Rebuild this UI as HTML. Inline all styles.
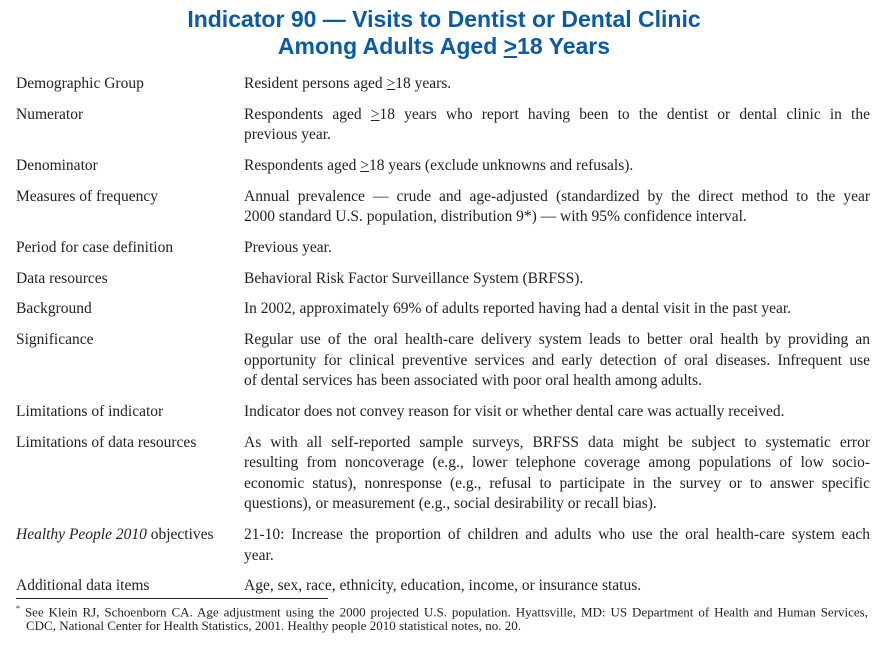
<!DOCTYPE html>
<html><head><meta charset="utf-8"><style>
body{margin:0;background:#fff;width:888px;height:650px;position:relative;overflow:hidden;font-family:"Liberation Serif",serif;color:#222}
.t{position:absolute;left:0;width:888px;text-align:center;font-family:"Liberation Sans",sans-serif;font-weight:bold;color:#0b5aa6;font-size:23px;line-height:26px}
.t span{display:inline-block;transform:scaleX(1.0)}
.l{position:absolute;left:16px;font-size:15.5px;line-height:18px;white-space:nowrap}
.r{position:absolute;left:244px;width:626px;font-size:15.5px;line-height:18px;white-space:nowrap}
.j{text-align:justify;text-align-last:justify}
.f{position:absolute;left:16px;width:852px;font-size:13px;line-height:15px;white-space:nowrap}
u{text-decoration:underline}
</style></head><body>
<div class="t" style="top:6px"><span>Indicator 90 — Visits to Dentist or Dental Clinic</span></div>
<div class="t" style="top:33px"><span>Among Adults Aged <u>&gt;</u>18 Years</span></div>

<div class="l" style="top:75px">Demographic Group</div>
<div class="r" style="top:75px">Resident persons aged <u>&gt;</u>18 years.</div>

<div class="l" style="top:106px">Numerator</div>
<div class="r j" style="top:106px">Respondents aged <u>&gt;</u>18 years who report having been to the dentist or dental clinic in the</div>
<div class="r" style="top:126px">previous year.</div>

<div class="l" style="top:157px">Denominator</div>
<div class="r" style="top:157px">Respondents aged <u>&gt;</u>18 years (exclude unknowns and refusals).</div>

<div class="l" style="top:188px">Measures of frequency</div>
<div class="r j" style="top:188px">Annual prevalence — crude and age-adjusted (standardized by the direct method to the year</div>
<div class="r" style="top:208px">2000 standard U.S. population, distribution 9*) — with 95% confidence interval.</div>

<div class="l" style="top:239px">Period for case definition</div>
<div class="r" style="top:239px">Previous year.</div>

<div class="l" style="top:270px">Data resources</div>
<div class="r" style="top:270px">Behavioral Risk Factor Surveillance System (BRFSS).</div>

<div class="l" style="top:300px">Background</div>
<div class="r" style="top:300px">In 2002, approximately 69% of adults reported having had a dental visit in the past year.</div>

<div class="l" style="top:331px">Significance</div>
<div class="r j" style="top:331px">Regular use of the oral health-care delivery system leads to better oral health by providing an</div>
<div class="r j" style="top:352px">opportunity for clinical preventive services and early detection of oral diseases. Infrequent use</div>
<div class="r" style="top:372px">of dental services has been associated with poor oral health among adults.</div>

<div class="l" style="top:403px">Limitations of indicator</div>
<div class="r" style="top:403px">Indicator does not convey reason for visit or whether dental care was actually received.</div>

<div class="l" style="top:434px">Limitations of data resources</div>
<div class="r j" style="top:434px">As with all self-reported sample surveys, BRFSS data might be subject to systematic error</div>
<div class="r j" style="top:454px">resulting from noncoverage (e.g., lower telephone coverage among populations of low socio-</div>
<div class="r j" style="top:475px">economic status), nonresponse (e.g., refusal to participate in the survey or to answer specific</div>
<div class="r" style="top:495px">questions), or measurement (e.g., social desirability or recall bias).</div>

<div class="l" style="top:526px"><i>Healthy People 2010</i> objectives</div>
<div class="r j" style="top:526px">21-10: Increase the proportion of children and adults who use the oral health-care system each</div>
<div class="r" style="top:547px">year.</div>

<div class="l" style="top:577px">Additional data items</div>
<div class="r" style="top:577px">Age, sex, race, ethnicity, education, income, or insurance status.</div>

<div style="position:absolute;left:16px;top:598px;width:312px;height:1px;background:#222"></div>
<div class="f j" style="top:601px"><sup style="font-size:8px">*</sup> See Klein RJ, Schoenborn CA. Age adjustment using the 2000 projected U.S. population. Hyattsville, MD: US Department of Health and Human Services,</div>
<div class="f" style="top:618px;left:26px">CDC, National Center for Health Statistics, 2001. Healthy people 2010 statistical notes, no. 20.</div>
</body></html>
